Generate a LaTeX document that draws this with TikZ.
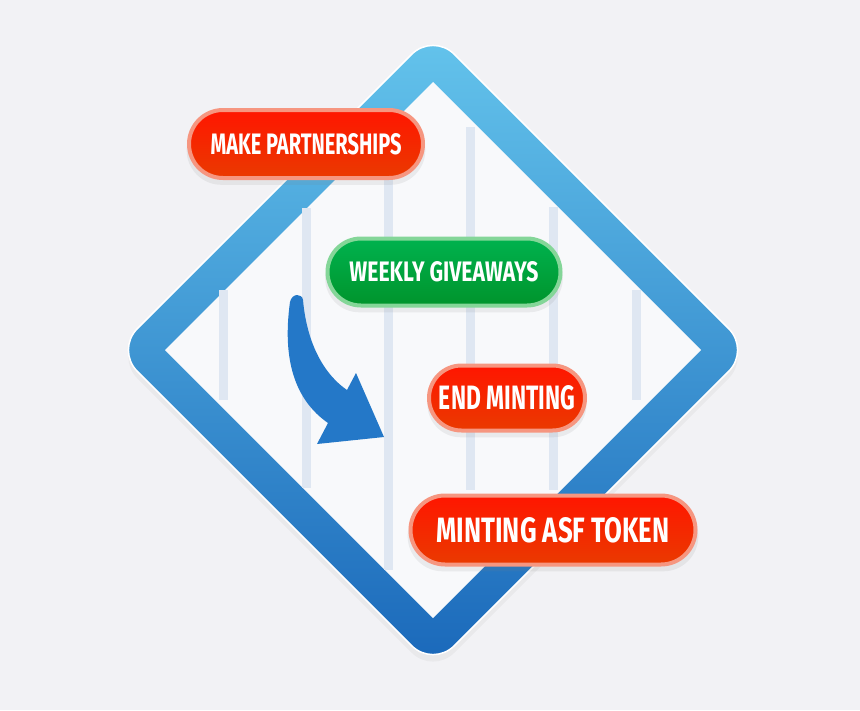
\documentclass[tikz,border=0pt]{standalone}
\usepackage{fontspec}
\setmainfont{Fira Sans}
\usepackage{graphicx}
\usepackage{xcolor}
\usetikzlibrary{shapes.misc, shadows, positioning}

\definecolor{fond}{RGB}{242,242,245}
\definecolor{interieur}{RGB}{248,249,251}
\definecolor{barre}{RGB}{223,231,242}
\definecolor{cadrehaut}{RGB}{100,196,236}
\definecolor{cadremilieu}{RGB}{52,148,214}
\definecolor{cadrebas}{RGB}{26,104,186}
\definecolor{fleche}{RGB}{36,120,200}
\definecolor{rougehaut}{RGB}{255,22,0}
\definecolor{rougebas}{RGB}{234,58,0}
\definecolor{rougebord}{RGB}{246,150,128}
\definecolor{verthaut}{RGB}{0,178,78}
\definecolor{vertbas}{RGB}{0,148,44}
\definecolor{vertbord}{RGB}{132,214,152}

\newcommand{\pilltext}[3]{\resizebox{#1}{#2}{\bfseries #3}}

\begin{document}
\begin{tikzpicture}[
	x=1pt, y=-1pt,
	pill/.style={rounded rectangle, line width=4pt, inner sep=0pt, text=white,
		drop shadow={opacity=.12, shadow xshift=0pt, shadow yshift=-6pt, shadow scale=1.02}},
	pillred/.style={pill, draw=rougebord, top color=rougehaut, bottom color=rougebas},
	pillgreen/.style={pill, draw=vertbord, top color=verthaut, bottom color=vertbas},
	frame/.style={top color=cadrehaut, middle color=cadremilieu, bottom color=cadrebas,
		draw=white, line width=1.5pt, rounded corners=30pt,
		drop shadow={opacity=.08, shadow xshift=0pt, shadow yshift=-7pt}},
	]

	% Le fond
	\fill[fond] (0,0) rectangle (860,710);
	\useasboundingbox (0,0) rectangle (860,710);

	% Le cadre
	\shade[frame] (433,33) -- (750,350) -- (433,667) -- (116,350) -- cycle;
	\fill[interieur] (433,82) -- (701,350) -- (433,618) -- (165,350) -- cycle;

	% Les barres
	\foreach \x/\a/\b in {223/290/400, 306/208/488, 388/130/570, 470/127/490, 553/207/490, 636/290/400}
		\fill[barre] (\x-4.5,\a) rectangle (\x+4.5,\b);

	% La flèche
	\fill[fleche] (290,302) .. controls (282,360) and (295,400) .. (328,423)
		-- (317,444) -- (384,437) -- (356,373) -- (347,390)
		.. controls (325,375) and (307,345) .. (303,300)
		.. controls (302,293) and (292,293) .. (290,302) -- cycle;

	% Les étiquettes
	\node[pillred, minimum width=234pt, minimum height=68pt] (partner) at (306,144)
		{\pilltext{191pt}{21pt}{MAKE PARTNERSHIPS}};
	\node[pillgreen, minimum width=233pt, minimum height=67pt] (giveaway) at (444,272)
		{\pilltext{189pt}{20pt}{WEEKLY GIVEAWAYS}};
	\node[pillred, minimum width=156pt, minimum height=65pt] (endmint) at (507,398)
		{\pilltext{136pt}{24pt}{END MINTING}};
	\node[pillred, minimum width=285pt, minimum height=69pt] (token) at (553,530)
		{\pilltext{233pt}{25pt}{MINTING ASF TOKEN}};
\end{tikzpicture}
\end{document}
